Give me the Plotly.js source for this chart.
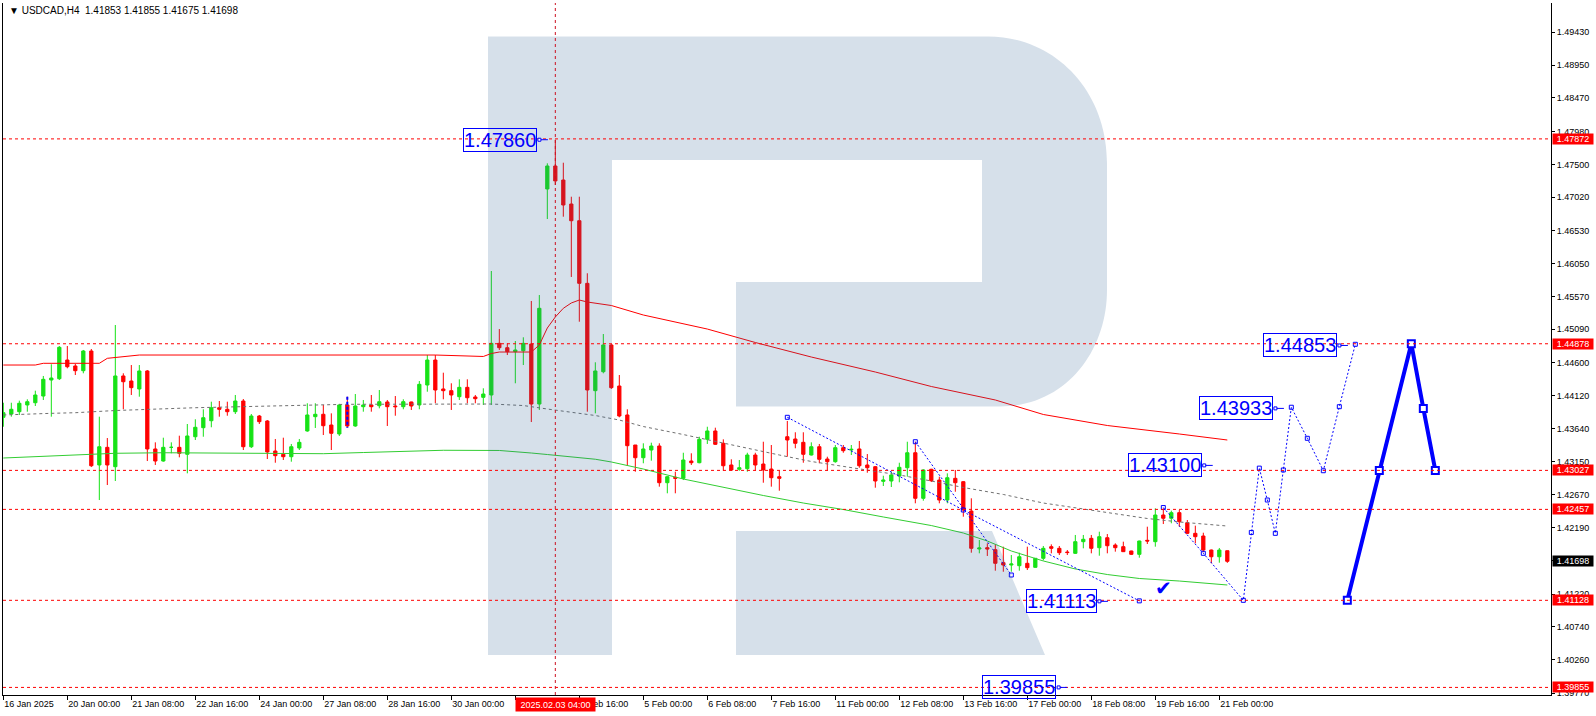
<!DOCTYPE html>
<html><head><meta charset="utf-8">
<script src="https://cdn.plot.ly/plotly-3.0.1.min.js"></script>
<style>html,body{margin:0;padding:0;background:#fff}#chart{width:1596px;height:716px}</style>
</head><body><div id="chart"></div>
<script>
// ---------- DATA (USDCAD H4) ----------
const symbol = 'USDCAD,H4';
const xTickIdx = [0,8,16,24,32,40,48,56,64,72,80,88,96,104,112,120,128,136,144,152];
const xTickText = ['16 Jan 2025','20 Jan 00:00','21 Jan 08:00','22 Jan 16:00','24 Jan 00:00','27 Jan 08:00','28 Jan 16:00','30 Jan 00:00','31 Jan 08:00','3 Feb 16:00','5 Feb 00:00','6 Feb 08:00','7 Feb 16:00','11 Feb 00:00','12 Feb 08:00','13 Feb 16:00','17 Feb 00:00','18 Feb 08:00','19 Feb 16:00','21 Feb 00:00'];
const yTickVals = [1.4943,1.4895,1.4847,1.4798,1.4750,1.4702,1.4653,1.4605,1.4557,1.4509,1.4460,1.4412,1.4364,1.4315,1.4267,1.4219,1.4171,1.4122,1.4074,1.4026,1.3977];

const opens = [1.43803,1.43851,1.43885,1.43983,1.44016,1.44114,1.44348,1.44367,1.44640,1.44553,1.44484,1.44772,1.43106,1.43364,1.43081,1.44407,1.44333,1.44217,1.44480,1.43340,
1.43164,1.43364,1.43364,1.43262,1.43519,1.43651,1.43753,1.43943,1.43920,1.43885,1.44041,1.43373,1.43822,1.43749,1.43310,1.43262,1.43227,1.43354,1.43603,1.43812,
1.43847,1.43690,1.43559,1.43983,1.43676,1.43958,1.43983,1.43972,1.44027,1.43968,1.43958,1.44027,1.43983,1.44275,1.44640,1.44217,1.44192,1.44104,1.44241,1.44100,
1.44095,1.44129,1.44884,1.44820,1.44762,1.44776,1.44874,1.43997,1.47140,1.47476,1.47271,1.46920,1.46676,1.45761,1.44192,1.44469,1.44860,1.44260,1.43837,1.43398,
1.43212,1.43325,1.43383,1.42847,1.42926,1.42911,1.43164,1.43139,1.43481,1.43603,1.43423,1.43106,1.43043,1.43052,1.43252,1.43120,1.43047,1.42935,1.43519,1.43486,
1.43437,1.43252,1.43373,1.43193,1.43154,1.43359,1.43325,1.43340,1.43106,1.43081,1.42867,1.42872,1.42945,1.43066,1.43285,1.42619,1.43043,1.42886,1.42594,1.42911,
1.42862,1.42433,1.41878,1.41897,1.41868,1.41678,1.41644,1.41634,1.41669,1.41610,1.41742,1.41912,1.41888,1.41834,1.41815,1.41985,1.42034,1.41897,1.42043,1.41936,
1.41912,1.41849,1.41800,1.42005,1.41985,1.42375,1.42327,1.42409,1.42262,1.42107,1.42068,1.41863,1.41765,1.41853];
const highs = [1.44016,1.44016,1.44046,1.44066,1.44192,1.44407,1.44578,1.44845,1.44845,1.44582,1.44787,1.44801,1.43812,1.43500,1.45152,1.44446,1.44567,1.44567,1.44494,1.43437,
1.43505,1.43437,1.43534,1.43705,1.43774,1.43920,1.44031,1.44041,1.44031,1.44129,1.44070,1.43851,1.43837,1.43763,1.43486,1.43505,1.43413,1.43486,1.44008,1.44008,
1.43983,1.43861,1.44000,1.44104,1.44143,1.44056,1.44129,1.44202,1.44056,1.44114,1.44066,1.44031,1.44333,1.44713,1.44713,1.44455,1.44300,1.44358,1.44358,1.44129,
1.44227,1.45941,1.45093,1.44884,1.44918,1.44972,1.45503,1.45590,1.47515,1.47860,1.47524,1.47027,1.47027,1.45908,1.44607,1.45020,1.44874,1.44421,1.43920,1.43398,
1.43423,1.43432,1.43423,1.42945,1.43008,1.43285,1.43277,1.43519,1.43665,1.43651,1.43481,1.43189,1.43179,1.43285,1.43285,1.43446,1.43398,1.43022,1.43749,1.43584,
1.43584,1.43437,1.43413,1.43227,1.43398,1.43398,1.43398,1.43457,1.43266,1.43090,1.42949,1.43008,1.43139,1.43446,1.43446,1.43043,1.43050,1.42935,1.42984,1.43033,
1.42870,1.42619,1.42010,1.41961,1.41946,1.41912,1.41790,1.41824,1.41912,1.41746,1.41922,1.41946,1.41922,1.41863,1.42083,1.42083,1.42083,1.42131,1.42097,1.41961,
1.41985,1.41853,1.42000,1.42204,1.42473,1.42473,1.42438,1.42448,1.42302,1.42219,1.42116,1.41870,1.41893,1.41855];
const lows = [1.43665,1.43812,1.43837,1.43885,1.43968,1.44056,1.43812,1.44348,1.44519,1.44421,1.44446,1.43076,1.42594,1.42813,1.42872,1.43920,1.44129,1.44104,1.43164,1.43106,
1.43154,1.43277,1.43218,1.42984,1.43471,1.43519,1.43657,1.43812,1.43826,1.43851,1.43325,1.43354,1.43705,1.43193,1.43139,1.43179,1.43154,1.43325,1.43592,1.43647,
1.43544,1.43325,1.43530,1.43657,1.43665,1.43885,1.43885,1.43934,1.43676,1.43826,1.43920,1.43910,1.43920,1.44177,1.44008,1.44066,1.43910,1.44056,1.44008,1.44008,
1.43983,1.43983,1.44787,1.44713,1.44300,1.44567,1.43734,1.43910,1.46701,1.47198,1.46735,1.45854,1.45200,1.43885,1.43861,1.44446,1.44217,1.43803,1.43091,1.43008,
1.43131,1.43169,1.42789,1.42692,1.42692,1.42886,1.43106,1.43131,1.43413,1.43400,1.43022,1.43022,1.43022,1.43008,1.43022,1.42847,1.42789,1.42730,1.43227,1.43350,
1.43139,1.43245,1.43131,1.43022,1.43139,1.43285,1.43252,1.43066,1.42993,1.42774,1.42799,1.42784,1.42853,1.42935,1.42546,1.42584,1.42857,1.42546,1.42546,1.42715,
1.42350,1.41824,1.41815,1.41776,1.41561,1.41546,1.41546,1.41561,1.41571,1.41605,1.41712,1.41815,1.41790,1.41790,1.41805,1.41888,1.41815,1.41780,1.41815,1.41839,
1.41834,1.41790,1.41751,1.41951,1.41912,1.42243,1.42254,1.42204,1.42097,1.41961,1.41830,1.41669,1.41678,1.41675];
const closes = [1.43870,1.43920,1.44008,1.44031,1.44129,1.44358,1.44377,1.44826,1.44542,1.44484,1.44772,1.43095,1.43373,1.43106,1.44407,1.44323,1.44236,1.44480,1.43340,1.43164,
1.43364,1.43364,1.43277,1.43530,1.43657,1.43797,1.43943,1.43920,1.43885,1.44041,1.43373,1.43822,1.43739,1.43296,1.43242,1.43227,1.43373,1.43437,1.43837,1.43847,
1.43680,1.43569,1.43983,1.43676,1.43968,1.43983,1.43958,1.44031,1.43958,1.43958,1.44031,1.43968,1.44285,1.44640,1.44202,1.44192,1.44129,1.44241,1.44089,1.44075,
1.44143,1.44884,1.44820,1.44762,1.44787,1.44884,1.43997,1.45396,1.47476,1.47257,1.46906,1.46676,1.45761,1.44202,1.44480,1.44860,1.44236,1.43822,1.43388,1.43212,
1.43340,1.43383,1.42847,1.42935,1.42911,1.43179,1.43139,1.43481,1.43603,1.43408,1.43095,1.43033,1.43066,1.43252,1.43106,1.43033,1.42920,1.42911,1.43471,1.43423,
1.43262,1.43373,1.43189,1.43154,1.43359,1.43315,1.43335,1.43095,1.43066,1.42872,1.42886,1.42960,1.43072,1.43285,1.42619,1.43033,1.42876,1.42594,1.42920,1.42847,
1.42448,1.41888,1.41893,1.41878,1.41669,1.41644,1.41659,1.41765,1.41605,1.41742,1.41888,1.41888,1.41824,1.41826,1.41985,1.42020,1.41888,1.42058,1.41926,1.41897,
1.41839,1.41800,1.41995,1.41995,1.42375,1.42327,1.42409,1.42277,1.42107,1.42058,1.41863,1.41765,1.41863,1.41698];

// moving averages (read at bar indices)
const redMaIdx = [0,4,5,12,13,15,17,54,57,60,61,62,66,67,68,69,70,71,72,73,76,80,88,94,101,109,116,124,130,138,147,153];
const redMaVal = [1.44567,1.44567,1.44592,1.44592,1.44665,1.44689,1.44713,1.44713,1.44699,1.44692,1.44735,1.44757,1.44757,1.44860,1.45108,1.45269,1.45396,1.45474,1.45517,1.45488,1.45437,1.45298,1.45093,1.44896,1.44684,1.44465,1.44253,1.44056,1.43844,1.43683,1.43559,1.43471];
const greenMaIdx = [0,2,5,9,14,20,28,40,45,50,55,62,64,66,68,70,72,74,76,78,80,85,90,95,100,105,110,116,120,123,126,130,134,138,142,147,153];
const greenMaVal = [1.43208,1.43218,1.43233,1.43252,1.43277,1.43285,1.43281,1.43271,1.43288,1.43310,1.43321,1.43318,1.43303,1.43281,1.43259,1.43237,1.43212,1.43190,1.43150,1.43098,1.43047,1.42901,1.42777,1.42660,1.42550,1.42455,1.42346,1.42221,1.42112,1.41995,1.41849,1.41703,1.41586,1.41505,1.41447,1.41410,1.41352];
const grayMaIdx = [0,2,6,9,14,24,32,39,43,61,65,68,71,74,77,80,85,89,93,97,101,107,112,116,120,125,130,135,139,143,147,153];
const grayMaVal = [1.43837,1.43847,1.43861,1.43870,1.43902,1.43943,1.43968,1.43983,1.43993,1.43997,1.43975,1.43924,1.43880,1.43829,1.43763,1.43668,1.43551,1.43449,1.43350,1.43252,1.43157,1.43047,1.42960,1.42872,1.42777,1.42675,1.42550,1.42463,1.42390,1.42324,1.42273,1.42214];

// horizontal levels and forecast paths
const levels = [1.47872,1.44878,1.43027,1.42457,1.41128,1.39855];
const crossIdx = 69;
const crossLabel = '2025.02.03 04:00';
const pathAIdx = [98,120,142];
const pathAVal = [1.43803,1.42448,1.41120];
const pathBIdx = [114,126];
const pathBVal = [1.43446,1.41498];
const pathCIdx = [145,150,155,156,157,158,159,160,161,163,165,167,169];
const pathCVal = [1.42484,1.41815,1.41128,1.42120,1.43060,1.42594,1.42107,1.43033,1.43950,1.43496,1.43022,1.43958,1.44870];
const boldIdx = [168,172,176,177.5,179];
const boldVal = [1.41128,1.43027,1.44878,1.43933,1.43027];
const tagText = ['1.47860','1.44853','1.43933','1.43100','1.41113','1.39855'];
const tagVal  = [1.47860,1.44853,1.43933,1.43100,1.41113,1.39855];
const tagIdx  = [66.7,166.7,158.7,149.8,136.7,131.6];
const checkIdx = 145, checkVal = 1.41308;
const markIdx = 43, markTop = 1.44104, markBot = 1.43651;

// ---------- STYLE ----------
const GREEN = '#16e216', RED = '#ff0000', BLUE = '#0000ff';
const AXF = "'Liberation Sans', Arial, sans-serif";
const W = 1596, H = 716, ML = 3, MR = 45, MT = 3, MB = 21;
const PW = W - ML - MR, PH = H - MT - MB;

function narrowOK(){
  const c = document.createElement('canvas').getContext('2d');
  c.font = "40px monospace"; const a = c.measureText('1.41113').width;
  c.font = "40px 'Liberation Sans Narrow', monospace"; const b = c.measureText('1.41113').width;
  return Math.abs(a-b) > 1;
}
const tagFont = narrowOK() ? {family:"'Liberation Sans Narrow'", size:24, color:BLUE}
                           : {family:"'Liberation Sans'", size:20, color:BLUE};

// background logo "R" (pixel outline -> paper coords)
const px = x => ((x - ML) / PW).toFixed(5);
const py = y => ((H - MB - y) / PH).toFixed(5);
function P(cmds){
  return cmds.map(c => c[0] + (c.length>1 ? ' ' + c.slice(1).map((v,k)=> k%2===0 ? px(v) : py(v)).reduce((s,v,k)=> s + (k%2===0 ? (k? ' ':'') + v : ','+v), '') : '')).join(' ');
}
const logoPath = P([['M',488,36.5],['L',988,36.5],['C',1054,36.5,1107,90,1107,163],['L',1107,290],['C',1107,352,1065,406.5,1000,406.5],
  ['L',736,406.5],['L',736,282],['L',982,282],['L',982,160],['L',612,160],['L',612,655],['L',488,655],['Z']])
  + ' ' + P([['M',736,531],['L',992,531],['L',1045,655],['L',736,655],['Z']]);

const idx = opens.map((_, i) => i);

const traces = [
  {type:'candlestick', x:idx, open:opens, high:highs, low:lows, close:closes,
   increasing:{line:{color:GREEN,width:1}, fillcolor:GREEN},
   decreasing:{line:{color:RED,width:1}, fillcolor:RED},
   whiskerwidth:0, hoverinfo:'skip'},
  {type:'scatter', mode:'lines', x:redMaIdx, y:redMaVal, line:{color:'#ff0000', width:1}, hoverinfo:'skip'},
  {type:'scatter', mode:'lines', x:greenMaIdx, y:greenMaVal, line:{color:'#32cd32', width:1}, hoverinfo:'skip'},
  {type:'scatter', mode:'lines', x:grayMaIdx, y:grayMaVal, line:{color:'#707070', width:1, dash:'3px,3px'}, hoverinfo:'skip'},
  {type:'scatter', mode:'lines+markers', x:pathAIdx, y:pathAVal, line:{color:BLUE, width:1, dash:'2px,2px'}, marker:{symbol:'square-open', size:4, color:BLUE}, hoverinfo:'skip'},
  {type:'scatter', mode:'lines+markers', x:pathBIdx, y:pathBVal, line:{color:BLUE, width:1, dash:'2px,2px'}, marker:{symbol:'square-open', size:4, color:BLUE}, hoverinfo:'skip'},
  {type:'scatter', mode:'lines+markers', x:pathCIdx, y:pathCVal, line:{color:BLUE, width:1, dash:'2px,2px'}, marker:{symbol:'square-open', size:4, color:BLUE}, hoverinfo:'skip'},
  {type:'scatter', mode:'lines+markers', x:boldIdx, y:boldVal, line:{color:BLUE, width:4}, marker:{symbol:'square', size:7, color:'#ffffff', line:{color:BLUE, width:2}}, hoverinfo:'skip'}
];

const shapes = [];
shapes.push({type:'path', xref:'paper', yref:'paper', path:logoPath, fillcolor:'rgb(50,100,150)', opacity:0.2, line:{width:0}, layer:'above'});
levels.forEach(v => shapes.push({type:'line', xref:'paper', yref:'y', x0:0, x1:1, y0:v, y1:v, line:{color:'#ff0000', width:1, dash:'3px,3px'}, layer:'above'}));
shapes.push({type:'line', xref:'x', yref:'paper', x0:crossIdx, x1:crossIdx, y0:0, y1:1, line:{color:'#cc1020', width:1, dash:'3px,3px'}, layer:'above'});
shapes.push({type:'line', xref:'x', yref:'y', x0:markIdx, x1:markIdx, y0:markTop, y1:markBot, line:{color:BLUE, width:2, dash:'3px,2px'}, layer:'above'});
tagIdx.forEach((x, k) => {
  shapes.push({type:'line', xref:'x', yref:'y', xsizemode:'pixel', xanchor:x, x0:1, x1:11, y0:tagVal[k], y1:tagVal[k], line:{color:BLUE, width:1}, layer:'above'});
  shapes.push({type:'rect', xref:'x', yref:'y', xsizemode:'pixel', ysizemode:'pixel', xanchor:x, yanchor:tagVal[k], x0:1, x1:4, y0:-1.5, y1:1.5, line:{color:BLUE, width:1}, fillcolor:'#ffffff', layer:'above'});
});

const annotations = [];
tagText.forEach((t, k) => annotations.push({x:tagIdx[k], y:tagVal[k], xref:'x', yref:'y', xanchor:'right', yanchor:'middle',
  text:t, showarrow:false, font:tagFont, bordercolor:BLUE, borderwidth:1, borderpad:0, bgcolor:'rgba(0,0,0,0)', height:22}));
levels.forEach(v => annotations.push({x:1, y:v, xref:'paper', yref:'y', xanchor:'left', yanchor:'middle', xshift:1,
  text:v.toFixed(5), showarrow:false, font:{family:AXF, size:9, color:'#ffffff'}, bgcolor:'#ff0000', width:40, height:10, borderpad:0}));
const last = closes.length - 1;
annotations.push({x:1, y:closes[last], xref:'paper', yref:'y', xanchor:'left', yanchor:'middle', xshift:1,
  text:closes[last].toFixed(5), showarrow:false, font:{family:AXF, size:9, color:'#ffffff'}, bgcolor:'#000000', width:40, height:10, borderpad:0});
annotations.push({x:crossIdx, y:0, xref:'x', yref:'paper', xanchor:'center', yanchor:'top', yshift:-2,
  text:crossLabel, showarrow:false, font:{family:AXF, size:9, color:'#ffffff'}, bgcolor:'#ff0000', width:79, height:13, borderpad:0});
annotations.push({x:checkIdx, y:checkVal, xref:'x', yref:'y', text:'✔', showarrow:false, font:{family:'DejaVu Sans', size:20, color:BLUE}});
const hdr = '▼ ' + symbol + '\u00a0\u00a0' + [opens[last], highs[last], lows[last], closes[last]].map(v=>v.toFixed(5)).join(' ');
annotations.push({x:(7-ML)/PW, y:(H-MB-10.7)/PH, xref:'paper', yref:'paper', xanchor:'left', yanchor:'middle', text:hdr,
  showarrow:false, font:{family:AXF, size:10, color:'#000000'}});

const layout = {
  width:W, height:H, margin:{l:ML, r:MR, t:MT, b:MB, pad:0},
  paper_bgcolor:'#ffffff', plot_bgcolor:'#ffffff', showlegend:false, boxgap:0.42,
  xaxis:{type:'linear', range:[-0.04, 193.46], tickvals:xTickIdx, ticktext:xTickText, ticks:'outside', ticklen:4, tickcolor:'#000',
    ticklabelposition:'outside right', showline:true, linecolor:'#000', linewidth:1, showgrid:false, zeroline:false,
    tickfont:{family:AXF, size:9, color:'#000'}, rangeslider:{visible:false}, fixedrange:true},
  yaxis:{side:'right', range:[1.397442, 1.498582], tickvals:yTickVals, ticktext:yTickVals.map(v=>v.toFixed(5)), ticks:'outside', ticklen:3,
    tickcolor:'#000', showline:true, mirror:true, linecolor:'#000', linewidth:1, showgrid:false, zeroline:false,
    tickfont:{family:AXF, size:9, color:'#000'}, fixedrange:true},
  shapes:shapes, annotations:annotations
};
Plotly.newPlot('chart', traces, layout, {displayModeBar:false, staticPlot:true});
</script></body></html>
